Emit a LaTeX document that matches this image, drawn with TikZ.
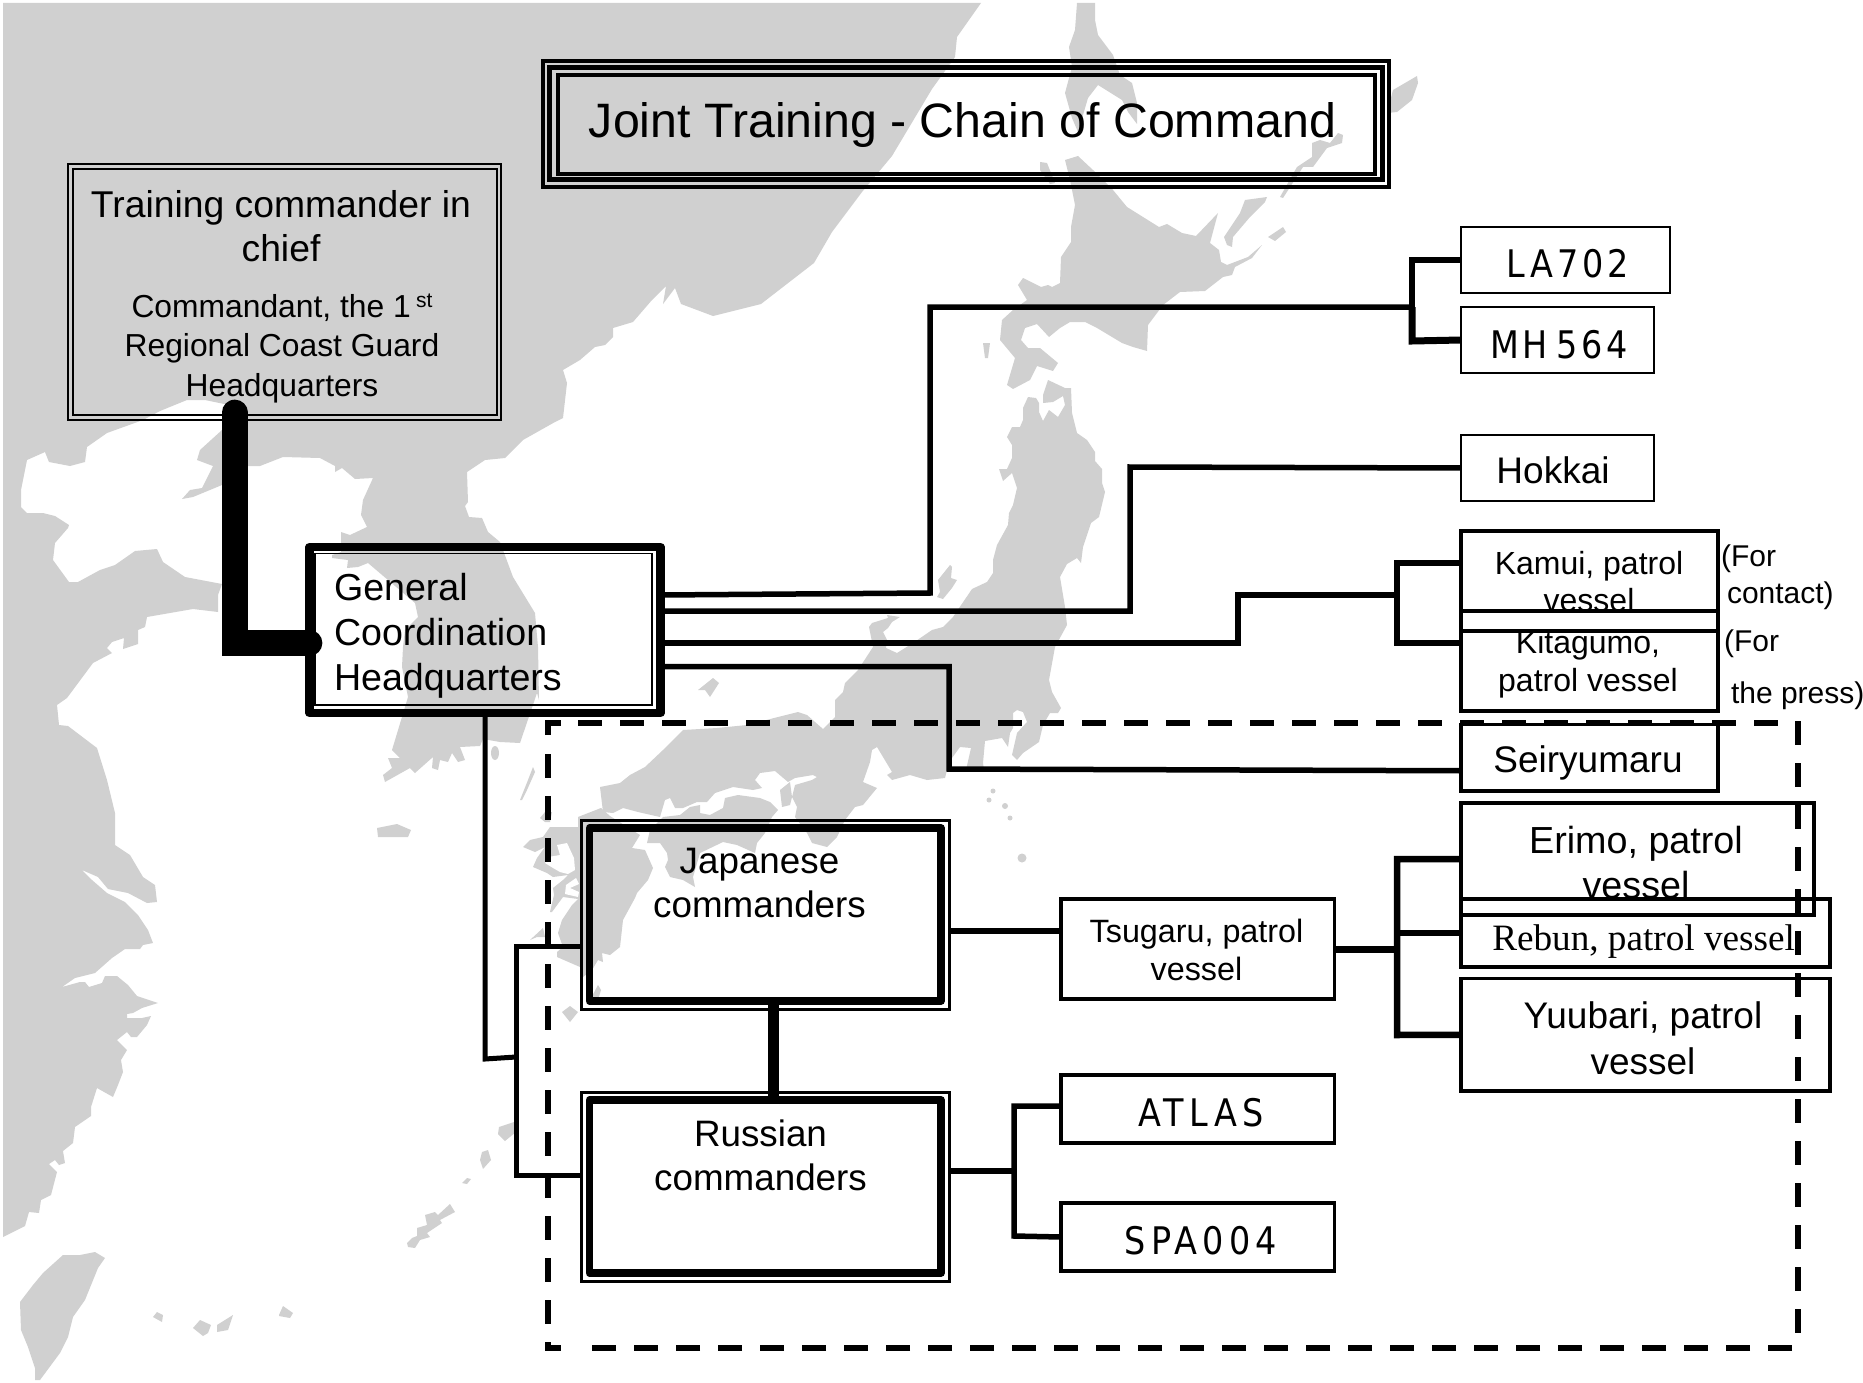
\documentclass[tikz,border=0pt]{standalone}
\usepackage{fontspec}
\setmainfont{Liberation Sans}
\newfontfamily\serifx{Liberation Serif}
\newfontfamily\spaced[LetterSpace=10.5,FakeStretch=0.88]{DejaVu Sans}
\newfontfamily\spacedb[LetterSpace=14,FakeStretch=0.88]{DejaVu Sans}
\newcommand{\fsz}[2]{\fontsize{#1}{#2}\selectfont}
\tikzset{
  land/.style={fill=landgray,draw=none},
  sea/.style={fill=white,draw=none},
  frame/.style={draw=black,rectangle,inner sep=0pt,outer sep=0pt,line join=miter},
  thin box/.style={frame,line width=2.8pt},
  heavy box/.style={frame,line width=3.8pt},
  conn/.style={draw=black,line width=5.5pt,line join=miter},
  thickconn/.style={conn,line width=7pt},
  dashline/.style={draw=black,line width=6pt,dash pattern=on 24pt off 18pt},
  dashcorner/.style={draw=black,line width=6pt,line join=miter},
  txt/.style={inner sep=0pt,outer sep=0pt,align=center,text=black},
}
\definecolor{landgray}{HTML}{D0D0D0}
\begin{document}
\begin{tikzpicture}[x=1pt,y=-1pt]
\useasboundingbox (0,0) rectangle (1863,1383);
\fill[white] (0,0) rectangle (1863,1383);
% ---------- map ----------
\fill[land] plot coordinates {(3,3) (981,3) (957,37) (955,57) (932,89) (892,156) (862,192) (832,232) (814,263) (761,304) (713,316) (681,304) (675,288) (663,304) (666,286) (652,300) (633,322) (613,328) (613,337) (605,345) (595,347) (580,360) (563,370) (567,383) (563,418) (555,422) (523,440) (505,458) (485,460) (467,472) (468,502) (465,506) (469,517) (482,518) (488,532) (500,542) (513,577) (535,613) (538,647) (539,700) (537,693) (520,743) (500,742) (483,739) (480,746) (460,747) (465,760) (458,762) (452,753) (448,762) (440,760) (438,770) (432,768) (433,757) (415,773) (410,768) (385,782) (383,775) (392,768) (388,758) (400,758) (392,750) (405,707) (408,697) (402,667) (403,647) (405,630) (418,617) (415,603) (368,563) (358,567) (347,568) (348,560) (332,558) (332,555) (341,552) (341,532) (350,535) (367,527) (361,515) (363,500) (373,478) (355,479) (342,468) (335,472) (335,466) (320,458) (283,457) (260,466) (248,466) (222,485) (193,497) (182,499) (190,490) (202,488) (213,466) (197,460) (200,450) (222,430) (229,405) (205,400) (187,400) (160,411) (143,420) (107,433) (87,447) (85,462) (70,466) (49,462) (45,452) (27,460) (21,490) (21,507) (27,513) (43,513) (55,516) (69,525) (68,528) (55,543) (53,560) (69,582) (78,582) (100,570) (115,565) (135,551) (157,549) (163,562) (185,577) (222,584) (218,595) (218,612) (193,609) (147,617) (145,627) (138,630) (138,644) (123,649) (124,638) (112,642) (107,648) (112,653) (93,663) (67,698) (57,705) (59,725) (68,726) (97,748) (107,780) (115,813) (115,845) (130,855) (143,877) (155,885) (157,902) (147,903) (128,893) (108,889) (98,877) (82,870) (92,880) (107,893) (125,902) (138,915) (148,930) (153,943) (143,945) (140,949) (125,949) (112,958) (95,973) (75,978) (62,987) (80,982) (85,982) (89,987) (102,983) (105,976) (117,976) (128,985) (137,996) (158,1003) (142,1008) (133,1013) (127,1014) (127,1018) (142,1018) (151,1016) (147,1025) (137,1037) (131,1037) (127,1032) (117,1040) (127,1050) (121,1060) (123,1072) (118,1085) (113,1097) (97,1088) (91,1107) (91,1116) (75,1127) (73,1143) (63,1151) (65,1163) (59,1165) (55,1160) (49,1164) (57,1172) (51,1195) (41,1200) (39,1213) (29,1212) (25,1226) (3,1237)} -- cycle;
% Sakhalin
\fill[land] plot coordinates {(1077,3) (1095,3) (1095,20) (1098,35) (1113,55) (1120,75) (1132,83) (1137,103) (1137,124) (1128,112) (1122,100) (1098,85) (1088,98) (1078,132) (1072,118) (1065,93) (1072,67) (1069,47) (1075,30)} -- cycle;
% Hokkaido
\fill[land] plot coordinates {(1065,160) (1078,156) (1093,170) (1113,190) (1127,207) (1159,227) (1167,224) (1182,233) (1196,236) (1218,213) (1210,243) (1219,250) (1221,262) (1227,265) (1248,257) (1262,245) (1252,258) (1235,267) (1232,275) (1223,277) (1205,291) (1180,292) (1163,305) (1148,325) (1147,351) (1133,347) (1122,343) (1097,328) (1085,322) (1070,322) (1060,328) (1049,337) (1037,324) (1025,328) (1021,340) (1028,348) (1040,348) (1058,363) (1053,371) (1037,366) (1030,380) (1013,389) (1007,385) (1015,358) (1000,340) (1002,320) (1013,310) (1027,300) (1018,285) (1023,278) (1041,287) (1048,285) (1052,287) (1060,283) (1061,257) (1071,242) (1071,227) (1075,205) (1070,180)} -- cycle;
% small northern islands
\fill[land] plot coordinates {(1040,162) (1047,163) (1055,183) (1050,184) (1040,170)} -- cycle;
\fill[land] plot coordinates {(1245,200) (1267,197) (1265,202) (1250,217) (1233,237) (1232,247) (1227,245) (1224,237) (1240,213)} -- cycle;
\fill[land] plot coordinates {(1268,237) (1283,227) (1286,232) (1275,241)} -- cycle;
\fill[land] plot coordinates {(1280,197) (1297,167) (1312,157) (1312,143) (1320,140) (1330,143) (1338,133) (1343,135) (1342,143) (1327,148) (1313,167) (1303,167) (1283,198)} -- cycle;
\fill[land] plot coordinates {(1387,113) (1393,90) (1417,76) (1418,83) (1412,100) (1397,112)} -- cycle;
\fill[land] plot coordinates {(983,343) (990,343) (988,358) (985,358)} -- cycle;
% Honshu
\fill[land] plot coordinates {(1048,380) (1065,388) (1071,388) (1072,413) (1077,433) (1087,440) (1095,452) (1095,461) (1102,469) (1102,483) (1105,492) (1099,517) (1091,523) (1083,547) (1081,563) (1077,558) (1067,564) (1060,577) (1065,607) (1067,625) (1055,647) (1049,680) (1052,692) (1061,708) (1058,713) (1050,713) (1043,725) (1039,742) (1023,753) (1017,760) (1012,755) (1017,733) (1027,722) (1023,712) (1017,710) (1013,713) (1013,728) (1010,733) (1008,747) (1002,738) (985,741) (983,763) (984,770) (966,770) (971,748) (960,747) (952,758) (947,770) (945,778) (927,780) (910,775) (892,780) (887,775) (892,772) (877,747) (872,750) (870,762) (863,782) (877,788) (863,805) (855,807) (845,820) (837,837) (827,847) (812,843) (807,833) (795,817) (797,807) (792,797) (795,785) (812,780) (817,777) (813,775) (795,778) (788,782) (775,771) (760,773) (755,780) (762,788) (753,790) (733,787) (715,793) (707,802) (697,802) (683,808) (675,808) (670,798) (665,800) (660,817) (638,812) (623,808) (613,813) (603,812) (600,787) (620,783) (630,775) (645,767) (663,750) (683,730) (717,728) (747,725) (778,717) (798,712) (807,715) (823,729) (835,717) (835,700) (843,692) (845,683) (858,670) (873,647) (869,627) (872,623) (888,618) (887,615) (900,617) (892,622) (888,628) (883,632) (887,640) (886,648) (897,653) (913,643) (932,630) (943,627) (953,617) (972,589) (987,582) (993,573) (993,560) (997,545) (1008,525) (1009,513) (1013,505) (1017,488) (1012,473) (1003,481) (999,469) (1007,469) (1012,458) (1012,445) (1007,437) (1012,427) (1020,427) (1023,420) (1023,408) (1028,397) (1036,398) (1039,403) (1039,412) (1043,421) (1049,410) (1058,417) (1065,405) (1063,396) (1053,402) (1043,403) (1043,395)} -- cycle;
% Shikoku
\fill[land] plot coordinates {(663,817) (650,830) (647,843) (660,843) (667,853) (668,860) (665,867) (670,877) (683,880) (695,887) (693,877) (700,853) (723,842) (737,845) (755,853) (757,843) (765,833) (772,817) (778,810) (770,802) (760,798) (738,795) (725,798) (723,808) (710,815) (700,813) (700,805) (690,807) (680,815)} -- cycle;
% Awaji
\fill[land] plot coordinates {(780,790) (790,782) (792,797) (790,805) (782,807)} -- cycle;
% Kyushu
\fill[land] plot coordinates {(578,817) (601,808) (610,816) (640,835) (632,848) (645,850) (653,868) (648,880) (637,893) (635,898) (623,920) (620,947) (610,955) (602,953) (603,962) (598,960) (592,970) (583,977) (580,967) (557,957) (557,952) (563,947) (558,933) (562,920) (572,905) (578,899) (563,897) (552,912) (550,912) (554,895) (553,888) (563,880) (568,875) (553,877) (547,873) (533,867) (537,858) (545,847) (535,852) (523,847) (530,840) (543,837) (550,827) (570,827) (578,827)} -- cycle;
\fill[sea] plot coordinates {(557,845) (567,843) (574,858) (575,870) (568,874) (560,872) (553,868) (545,863) (548,857) (560,855)} -- cycle;
\fill[sea] plot coordinates {(566,885) (576,878) (579,884) (570,888) (579,892) (578,897) (565,894)} -- cycle;
% southern and western islands
\fill[land] plot coordinates {(938,580) (950,565) (952,567) (951,578) (957,580) (952,588) (943,599) (937,597) (940,592)} -- cycle;
\fill[land] plot coordinates {(698,690) (713,678) (719,683) (710,697) (705,690)} -- cycle;
\fill[land] plot coordinates {(520,800) (528,780) (533,767) (535,772) (527,790) (522,800)} -- cycle;
\fill[land] plot coordinates {(545,812) (540,818) (545,822) (550,822) (552,812)} -- cycle;
\fill[land] plot coordinates {(377,828) (397,824) (411,830) (408,837) (378,837)} -- cycle;
\fill[land] plot coordinates {(530,940) (543,928) (545,937) (537,937)} -- cycle;
\fill[land] plot coordinates {(562,1012) (570,1006) (578,1012) (570,1022)} -- cycle;
\fill[land] plot coordinates {(590,1000) (598,985) (601,990) (598,1000)} -- cycle;
\fill[land] plot coordinates {(480,1160) (482,1152) (488,1150) (491,1160) (483,1169)} -- cycle;
\fill[land] plot coordinates {(462,1183) (467,1178) (471,1179) (467,1184)} -- cycle;
\fill[land] plot coordinates {(407,1243) (412,1238) (417,1236) (417,1228) (427,1225) (425,1215) (435,1212) (438,1215) (450,1204) (455,1212) (440,1220) (442,1223) (427,1233) (430,1237) (420,1240) (415,1248) (408,1247)} -- cycle;
\fill[land] plot coordinates {(499,1127) (517,1121) (516,1132) (505,1141) (498,1134)} -- cycle;
\fill[land] plot coordinates {(153,1317) (157,1312) (163,1315) (162,1322)} -- cycle;
\fill[land] plot coordinates {(193,1328) (200,1320) (211,1325) (208,1333) (203,1336)} -- cycle;
\fill[land] plot coordinates {(217,1325) (233,1315) (228,1330) (217,1332)} -- cycle;
\fill[land] plot coordinates {(279,1315) (283,1306) (293,1313) (290,1318) (279,1316)} -- cycle;
\fill[land] plot coordinates {(105,1258) (95,1252) (80,1255) (63,1255) (43,1273) (33,1285) (20,1302) (21,1330) (28,1347) (35,1368) (35,1380) (40,1380) (60,1353) (68,1337) (73,1317) (85,1300) (98,1268)} -- cycle;
\fill[land] (495,753) ellipse [x radius=4,y radius=7];
\fill[land] (993,791) circle (2.5);
\fill[land] (989,800) circle (2.5);
\fill[land] (1005,806) circle (3);
\fill[land] (1010,818) circle (2.5);
\fill[land] (1022,858) circle (4.5);
% ---------- boxes ----------
\node[frame,line width=4pt,minimum width=846pt,minimum height=125.5pt] (titleo) at (966,124.25) {};
\node[frame,line width=5pt,minimum width=833pt,minimum height=111.5pt] (titlem) at (965.5,123.75) {};
\node[frame,line width=4pt,minimum width=817pt,minimum height=98.7pt] (titlei) at (966.5,124.35) {};
\node[frame,line width=2.2pt,minimum width=433pt,minimum height=256pt] (tcc) at (284.5,292) {};
\node[frame,line width=2.2pt,minimum width=424pt,minimum height=246pt] (tcci) at (285,292) {};
\node[frame,line width=8.5pt,line join=round,minimum width=351pt,minimum height=166pt] (gchq) at (485,630) {};
\node[frame,line width=1.8pt,minimum width=337pt,minimum height=151.5pt] (gchqi) at (483.5,629.25) {};
\node[frame,line width=3pt,minimum width=368pt,minimum height=189pt] (jpo) at (765,914.5) {};
\node[frame,line width=7.5pt,line join=round,minimum width=351.5pt,minimum height=173pt] (jpi) at (765.25,914.5) {};
\node[frame,line width=3pt,minimum width=368pt,minimum height=189pt] (ruo) at (765,1186.5) {};
\node[frame,line width=7.5pt,line join=round,minimum width=351.5pt,minimum height=173pt] (rui) at (765.25,1186.5) {};
\node[thin box,minimum width=209pt,minimum height=66pt] (la) at (1565.5,260) {};
\node[thin box,minimum width=193pt,minimum height=66pt] (mh) at (1557.5,340) {};
\node[thin box,minimum width=193pt,minimum height=66pt] (hk) at (1557.5,468) {};
\node[heavy box,minimum width=257pt,minimum height=80pt] (kamui) at (1589.5,571) {};
\node[heavy box,minimum width=257pt,minimum height=80pt] (kita) at (1589.5,671) {};
\draw[draw=black,line width=3.8pt] (kamui.south west) -- (kita.north west);
\draw[draw=black,line width=3.8pt] (kamui.south east) -- (kita.north east);
\node[heavy box,minimum width=257pt,minimum height=66.5pt] (seir) at (1589.5,757.75) {};
\node[heavy box,minimum width=353pt,minimum height=112pt] (erimo) at (1637.5,859) {};
\node[heavy box,minimum width=369pt,minimum height=68pt] (rebun) at (1645.5,933) {};
\node[heavy box,minimum width=369pt,minimum height=112.5pt] (yuu) at (1645.5,1034.75) {};
\node[heavy box,minimum width=273.5pt,minimum height=100pt] (tsu) at (1197.75,949) {};
\node[heavy box,minimum width=273.5pt,minimum height=68pt] (atlas) at (1197.75,1109) {};
\node[heavy box,minimum width=273.5pt,minimum height=68pt] (spa) at (1197.75,1237) {};
% ---------- connectors ----------
\draw[conn] ([yshift=35pt]gchq.east) -- (930,593) -- (930,307) -- (1412,307) coordinate (busa);
\draw[conn] (la.west) -- (1412,260) -- (busa);
\draw[thickconn] (busa) -- (1412,341) -- (mh.west);
\draw[conn] ([yshift=19pt]gchq.east) -- (1130,611) -- (1130,467) -- (hk.west);
\draw[conn] ([yshift=-13pt]gchq.east) -- (1238,643) -- (1238,595) -- (1397,595) coordinate (busb);
\draw[conn] ([yshift=8pt]kamui.west) -- (1397,563) -- (1397,643) -- ([yshift=28pt]kita.west);
\draw[conn] ([yshift=-36.5pt]gchq.east) -- (949,666.5) -- (949,769) -- ([yshift=-13pt]seir.west);
\draw[conn,line width=5pt] (gchq.south) -- (485,1059) -- (516,1057);
\draw[conn,line width=5pt] ([yshift=-31.5pt]jpo.west) -- (516,946) -- (516,1175) -- ([yshift=11.5pt]ruo.west);
\draw[conn,line width=11pt,line cap=round] ([xshift=8pt,yshift=4pt]jpo.south) -- ([xshift=8pt,yshift=-4pt]ruo.north);
\draw[conn] ([yshift=-16.5pt]jpo.east) -- ([yshift=18pt]tsu.west);
\draw[thickconn] (tsu.east) -- (1397,949);
\draw[conn,line width=6.5pt] (erimo.west) -- (1397,859) -- (1397,1035) -- (yuu.west);
\draw[conn,line width=6.5pt] (1397,933) -- (rebun.west);
\draw[conn] ([yshift=15.5pt]ruo.east) -- (1014,1171);
\draw[conn] ([yshift=3pt]atlas.west) -- (1014,1106) -- (1014,1236) -- (spa.west);
\draw[conn,line width=25.7pt,line cap=round] ([xshift=-49.8pt,yshift=7.5pt]tcc.south) -- (234.7,643) -- ([yshift=-13pt]gchq.west);
% ---------- dashed region ----------
\coordinate (dtl) at (548.3,723.3);
\coordinate (dbr) at (1798,1347.5);
\draw[dashline] (578,723.3) -- (1780,723.3);
\draw[dashcorner] (548.3,735) -- (dtl) -- (561,723.3);
\draw[dashline] (548.3,754) -- (548.3,1336);
\draw[dashline] (1798,721) -- (1798,1336);
\draw[dashline] (1792,1347.5) -- (575,1347.5);
\draw[dashcorner] (548.3,1342) -- (548.3,1347.5) -- (561,1347.5);
% ---------- text ----------
\node[txt,font=\fsz{48.3}{56}] (ttitle) at (962.5,125) {Joint Training - Chain of Command};
\node[txt,font=\fsz{37.3}{43.5}] (ttcc) at (281,226) {Training commander in\\chief};
\node[txt,font=\fsz{31.8}{39.5}] (ttcc2) at (282,348.2) {Commandant, the 1\,\raisebox{.32em}{\fsz{21}{21}st}\\Regional Coast Guard\\Headquarters};
\node[txt,font=\fsz{37.6}{45},align=left,anchor=west] (tgchq) at (334,635.5) {General\\Coordination\\Headquarters};
\node[txt,font=\spaced\fsz{38}{40}] (tla) at (1568,264) {LA702};
\node[txt,font=\spaced\fsz{38}{40}] (tmh) at (1559,345) {MH\kern 8pt 564};
\node[txt,font=\fsz{37}{44}] (thk) at (1553,470) {Hokkai};
\node[txt,font=\fsz{32}{37}] (tkamui) at (1589,582) {Kamui, patrol\\vessel};
\node[txt,font=\fsz{32}{38}] (tkita) at (1588,664.5) {Kitagumo,\\patrol vessel};
\node[txt,font=\fsz{30}{34},anchor=west] (tfor1) at (1721,558.5) {(For};
\node[txt,font=\fsz{30}{34},anchor=west] (tcon) at (1727,595.5) {contact)};
\node[txt,font=\fsz{30}{34},anchor=west] (tfor2) at (1724,643.5) {(For};
\node[txt,font=\fsz{30}{34},anchor=west] (tpress) at (1731,695.5) {the press)};
\node[txt,font=\fsz{37}{44}] (tseir) at (1588,762.5) {Seiryumaru};
\node[txt,font=\fsz{37.7}{45.5}] (terimo) at (1636,862.5) {Erimo, patrol\\vessel};
\node[txt,font=\serifx\fsz{37.2}{42}] (trebun) at (1643.6,941.5) {Rebun, patrol vessel};
\node[txt,font=\fsz{37}{45.5}] (tyuu) at (1643,1038.5) {Yuubari, patrol\\vessel};
\node[txt,font=\fsz{32.3}{38}] (ttsu) at (1196.5,950) {Tsugaru, patrol\\vessel};
\node[txt,font=\spacedb\fsz{38}{40}] (tatlas) at (1201,1113) {ATLAS};
\node[txt,font=\spacedb\fsz{38}{40}] (tspa) at (1201,1241) {SPA004};
\node[txt,font=\fsz{36.8}{44}] (tjp) at (759.5,883) {Japanese\\commanders};
\node[txt,font=\fsz{36.8}{44}] (tru) at (760.5,1155) {Russian\\commanders};
\end{tikzpicture}
\end{document}
